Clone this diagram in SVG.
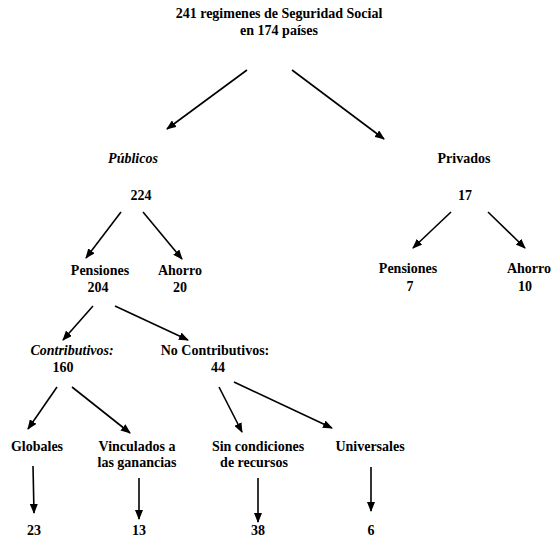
<svg xmlns="http://www.w3.org/2000/svg" width="555" height="540" viewBox="0 0 555 540">
<style>
text{font-family:'Liberation Serif','DejaVu Serif','Times New Roman',serif;font-weight:bold;font-size:14px;fill:#000;text-anchor:middle}
.it{font-style:italic}
.c line{stroke:#000;stroke-width:1.6;marker-end:url(#ah)}
</style>
<defs>
<marker id="ah" markerWidth="10" markerHeight="8" refX="9" refY="4" orient="auto" markerUnits="userSpaceOnUse">
<path d="M0,0 L10,4 L0,8 Z" fill="#000"/>
</marker>
</defs>
<g id="root"><text x="279" y="18">241 regimenes de Seguridad Social</text><text x="279" y="35">en 174 países</text></g>
<g id="publicos"><text x="133" y="163" class="it">Públicos</text><text x="141" y="200">224</text></g>
<g id="privados"><text x="464" y="163">Privados</text><text x="465" y="200">17</text></g>
<g id="pub-pensiones"><text x="100" y="275">Pensiones</text><text x="98" y="292">204</text></g>
<g id="pub-ahorro"><text x="180" y="275">Ahorro</text><text x="180" y="292">20</text></g>
<g id="priv-pensiones"><text x="408" y="273">Pensiones</text><text x="410" y="291">7</text></g>
<g id="priv-ahorro"><text x="529" y="273">Ahorro</text><text x="525" y="291">10</text></g>
<g id="contributivos"><text x="72" y="355" class="it">Contributivos:</text><text x="63" y="372">160</text></g>
<g id="nocontributivos"><text x="215" y="355">No Contributivos:</text><text x="218" y="372">44</text></g>
<g id="globales"><text x="37" y="451">Globales</text></g>
<g id="vinculados"><text x="137" y="451">Vinculados a</text><text x="137" y="467">las ganancias</text></g>
<g id="sincondiciones"><text x="258" y="451">Sin condiciones</text><text x="254" y="467">de recursos</text></g>
<g id="universales"><text x="370" y="451">Universales</text></g>
<g id="n23"><text x="34" y="535">23</text></g>
<g id="n13"><text x="139" y="535">13</text></g>
<g id="n38"><text x="258" y="535">38</text></g>
<g id="n6"><text x="371" y="535">6</text></g>
<g id="connectors" class="c">
<line x1="247" y1="70" x2="167" y2="129"/>
<line x1="292" y1="70" x2="384" y2="139"/>
<line x1="121" y1="212" x2="86" y2="258"/>
<line x1="143" y1="212" x2="182" y2="259"/>
<line x1="451" y1="212" x2="413" y2="248"/>
<line x1="488" y1="212" x2="525" y2="248"/>
<line x1="93" y1="306" x2="63" y2="340"/>
<line x1="115" y1="306" x2="188" y2="340"/>
<line x1="57" y1="387" x2="28" y2="429"/>
<line x1="72" y1="387" x2="130" y2="433"/>
<line x1="219" y1="387" x2="242" y2="432"/>
<line x1="234" y1="382" x2="332" y2="428"/>
<line x1="33" y1="466" x2="34" y2="513"/>
<line x1="139" y1="478" x2="139" y2="519"/>
<line x1="258" y1="478" x2="258" y2="522"/>
<line x1="371" y1="467" x2="371" y2="511"/>
</g>
</svg>
